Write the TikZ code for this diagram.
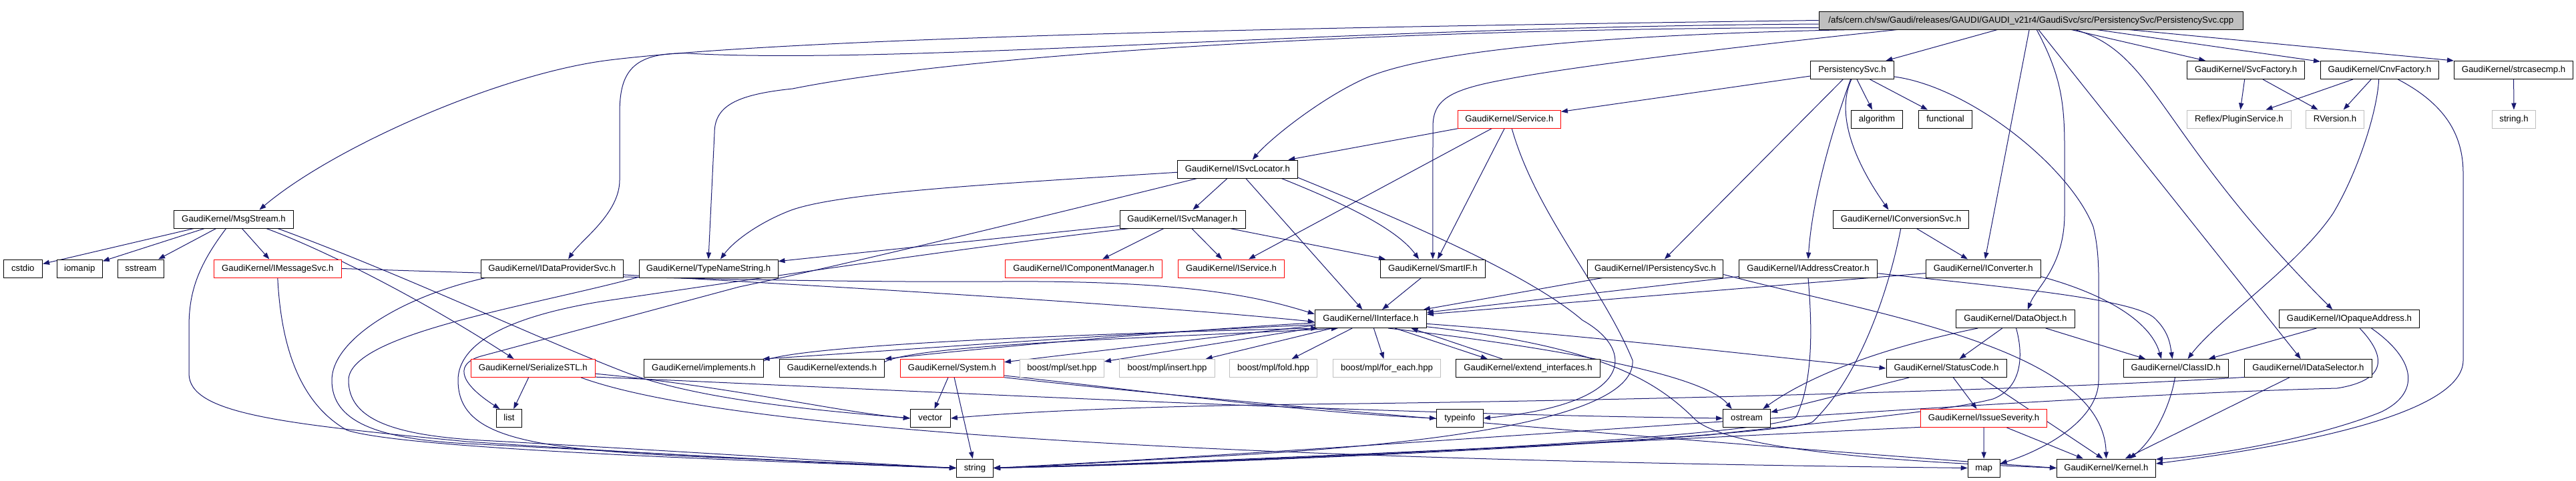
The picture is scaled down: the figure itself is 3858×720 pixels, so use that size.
\documentclass[tikz,border=0pt]{standalone}
\usepackage{fontspec}
\setmainfont{Liberation Sans}
\usetikzlibrary{arrows.meta}
\pgfdeclarelayer{bg}
\pgfsetlayers{bg,main}
\definecolor{edgecol}{HTML}{191970}
\definecolor{redb}{HTML}{FF0000}
\definecolor{grayb}{HTML}{BFBFBF}
\definecolor{topfill}{HTML}{BFBFBF}
\newcommand\gnode[6]{\node[#5, minimum width=#4*0.5pt] (#1) at (#2,#3) {#6};}
\tikzset{
 nbox/.style={draw=black, fill=white, line width=0.5pt, inner sep=0pt, minimum height=13.5pt, text height=4.8pt, text depth=1.3pt, font=\fontsize{6.6}{7.5}\selectfont},
 nred/.style={nbox, draw=redb},
 ngray/.style={nbox, draw=grayb},
 ntop/.style={nbox, fill=topfill},
 dep/.style={draw=edgecol, line width=0.5pt, -{Triangle[length=5pt,width=3.6pt]}},
}
\begin{document}
\begin{tikzpicture}[x=0.5pt,y=0.5pt]
\useasboundingbox (0,0) rectangle (3858,720);
% row 0
\gnode{T}{3041.8}{689.5}{635.5}{ntop}{/afs/cern.ch/sw/Gaudi/releases/GAUDI/GAUDI\_v21r4/GaudiSvc/src/PersistencySvc/PersistencySvc.cpp}
% row 1
\gnode{PS}{2774}{615}{125}{nbox}{PersistencySvc.h}
\gnode{SvcF}{3363.6}{615}{176}{nbox}{GaudiKernel/SvcFactory.h}
\gnode{CnvF}{3563.9}{615}{177}{nbox}{GaudiKernel/CnvFactory.h}
\gnode{strc}{3764.5}{615}{178}{nbox}{GaudiKernel/strcasecmp.h}
% row 2
\gnode{alg}{2811}{541.5}{77}{nbox}{algorithm}
\gnode{func}{2913.5}{541.5}{80}{nbox}{functional}
\gnode{Svc}{2260.4}{541.5}{154}{nred}{GaudiKernel/Service.h}
\gnode{Plug}{3353.4}{541.5}{156}{ngray}{Reflex/PluginService.h}
\gnode{RVer}{3496.9}{541.5}{87}{ngray}{RVersion.h}
\gnode{strh}{3765}{541.5}{65}{ngray}{string.h}
% row 3
\gnode{ISL}{1853.4}{466.5}{180}{nbox}{GaudiKernel/ISvcLocator.h}
% row 4
\gnode{Msg}{350}{391.5}{179}{nbox}{GaudiKernel/MsgStream.h}
\gnode{ISM}{1771}{391.5}{188}{nbox}{GaudiKernel/ISvcManager.h}
\gnode{ICS}{2847}{391.5}{203}{nbox}{GaudiKernel/IConversionSvc.h}
% row 5
\gnode{cstdio}{34.3}{317.5}{58.5}{nbox}{cstdio}
\gnode{iomanip}{119.3}{317.5}{68}{nbox}{iomanip}
\gnode{sstream}{210.8}{317.5}{69}{nbox}{sstream}
\gnode{IMsg}{415.8}{317.5}{191}{nred}{GaudiKernel/IMessageSvc.h}
\gnode{IDP}{826.8}{317.5}{213}{nbox}{GaudiKernel/IDataProviderSvc.h}
\gnode{TNS}{1061}{317.5}{208}{nbox}{GaudiKernel/TypeNameString.h}
\gnode{ICM}{1623}{317.5}{235}{nred}{GaudiKernel/IComponentManager.h}
\gnode{ISv}{1844}{317.5}{159}{nred}{GaudiKernel/IService.h}
\gnode{SIF}{2145.8}{317.5}{157}{nbox}{GaudiKernel/SmartIF.h}
\gnode{IPS}{2479}{317.5}{203.5}{nbox}{GaudiKernel/IPersistencySvc.h}
\gnode{IAC}{2708}{317.5}{207.5}{nbox}{GaudiKernel/IAddressCreator.h}
\gnode{ICv}{2970.3}{317.5}{172.6}{nbox}{GaudiKernel/IConverter.h}
% row 6
\gnode{II}{2052.8}{242}{167}{nbox}{GaudiKernel/IInterface.h}
\gnode{DO}{3018.3}{242}{178.6}{nbox}{GaudiKernel/DataObject.h}
\gnode{IOA}{3518.5}{242}{210}{nbox}{GaudiKernel/IOpaqueAddress.h}
% row 7
\gnode{SSTL}{798.3}{168}{186}{nred}{GaudiKernel/SerializeSTL.h}
\gnode{impl}{1054}{168}{179}{nbox}{GaudiKernel/implements.h}
\gnode{ext}{1246}{168}{157}{nbox}{GaudiKernel/extends.h}
\gnode{Sys}{1426}{168}{155}{nred}{GaudiKernel/System.h}
\gnode{set}{1590.4}{168}{126}{ngray}{boost/mpl/set.hpp}
\gnode{ins}{1748}{168}{143}{ngray}{boost/mpl/insert.hpp}
\gnode{fold}{1907}{168}{131}{ngray}{boost/mpl/fold.hpp}
\gnode{fe}{2077}{168}{161}{ngray}{boost/mpl/for\_each.hpp}
\gnode{ei}{2288.5}{168}{216}{nbox}{GaudiKernel/extend\_interfaces.h}
\gnode{SC}{2915}{168}{180}{nbox}{GaudiKernel/StatusCode.h}
\gnode{CID}{3258.6}{168}{157}{nbox}{GaudiKernel/ClassID.h}
\gnode{IDS}{3456.9}{168}{190.5}{nbox}{GaudiKernel/IDataSelector.h}
% row 8
\gnode{list}{762.5}{93}{38}{nbox}{list}
\gnode{vector}{1393.4}{93}{60}{nbox}{vector}
\gnode{typeinfo}{2186.4}{93}{70}{nbox}{typeinfo}
\gnode{ostream}{2616}{93}{71}{nbox}{ostream}
\gnode{ISev}{2971}{93}{189}{nred}{GaudiKernel/IssueSeverity.h}
% row 9
\gnode{string}{1460}{18.5}{55}{nbox}{string}
\gnode{map}{2971.2}{18.5}{48}{nbox}{map}
\gnode{Kern}{3154.4}{18.5}{148}{nbox}{GaudiKernel/Kernel.h}

\begin{pgfonlayer}{bg}
\fill[white] (0,0) rectangle (3858,720);
% top node
\draw[dep] (T) -- (PS);
\draw[dep] (T.180) .. controls (2000,680) and (1200,665) .. (913,630) .. controls (750,610) and (500,500) .. (Msg.20);
\draw[dep] (T.181) .. controls (2000,680) and (1350,622) .. (1030,640) .. controls (945,642) and (928,610) .. (928,550) -- (928,450) .. controls (928,400) and (870,360) .. (IDP.30);
\draw[dep] (T.182) .. controls (2100,678) and (1450,640) .. (1187,587) .. controls (1100,578) and (1070,560) .. (1070,520) -- (TNS.north);
\draw[dep] (T.183) .. controls (2400,668) and (2150,645) .. (2050,605) .. controls (1980,575) and (1900,510) .. (ISL.32);
\draw[dep] (T.184) .. controls (2600,650) and (2350,620) .. (2250,600) .. controls (2170,585) and (2146,570) .. (2146,530) -- (SIF.north);
\draw[dep] (T) -- (ICv);
\draw[dep] (T.-59) .. controls (3085,610) and (3092,570) .. (3092,500) -- (3092,400) .. controls (3092,320) and (3050,290) .. (DO.37);
\draw[dep] (T) -- (IDS);
\draw[dep] (T.-12) .. controls (3230,640) and (3230,520) .. (IOA.151);
\draw[dep] (T) -- (SvcF);
\draw[dep] (T) -- (CnvF);
\draw[dep] (T) -- (strc.north west);
% PersistencySvc.h
\draw[dep] (PS) -- (Svc);
\draw[dep] (PS) -- (alg);
\draw[dep] (PS) -- (func);
\draw[dep] (PS.-95) .. controls (2745,540) and (2790,460) .. (ICS.143);
\draw[dep] (PS) -- (IPS);
\draw[dep] (PS.-100) .. controls (2742,520) and (2714,420) .. (IAC.north);
\draw[dep] (PS.-9) .. controls (2950,590) and (3100,470) .. (3135,380) .. controls (3145,340) and (3143,300) .. (3143,250) -- (3143,150) .. controls (3143,90) and (3060,45) .. (map.15);
% factories
\draw[dep] (SvcF) -- (Plug);
\draw[dep] (SvcF) -- (RVer);
\draw[dep] (CnvF) -- (Plug);
\draw[dep] (CnvF) -- (RVer);
\draw[dep] (CnvF.-95) .. controls (3560,550) and (3530,460) .. (3494,400) .. controls (3440,320) and (3320,240) .. (CID.38);
\draw[dep] (CnvF.-27) .. controls (3660,565) and (3689,520) .. (3689,460) -- (3689,180) .. controls (3689,110) and (3500,60) .. (Kern.5);
\draw[dep] (strc) -- (strh);
% Service.h
\draw[dep] (Svc) -- (ISL);
\draw[dep] (Svc) -- (ISv);
\draw[dep] (Svc) -- (SIF);
\draw[dep] (Svc.-75) .. controls (2300,400) and (2400,290) .. (2445,180) .. controls (2450,100) and (2200,55) .. (1800,35) .. controls (1650,27) and (1550,20) .. (string.east);
% ISvcLocator.h
\draw[dep] (ISL) -- (ISM);
\draw[dep] (ISL) -- (II);
\draw[dep] (ISL.-12) .. controls (2000,420) and (2090,380) .. (SIF.146);
\draw[dep] (ISL.183) .. controls (1500,445) and (1260,432) .. (1185,405) .. controls (1140,388) and (1100,360) .. (TNS.38);
\draw[dep] (ISL.193) .. controls (1500,380) and (1250,320) .. (1107,290) -- (720,186) .. controls (685,176) and (682,150) .. (list.135);
\draw[dep] (ISL.-8) .. controls (2150,370) and (2300,300) .. (2370,240) .. controls (2450,195) and (2450,115) .. (typeinfo.east);
% ISvcManager.h
\draw[dep] (ISM) -- (ICM);
\draw[dep] (ISM) -- (ISv);
\draw[dep] (ISM) -- (SIF);
\draw[dep] (ISM) -- (TNS);
\draw[dep] (ISM.190) .. controls (1450,350) and (1050,290) .. (900,268) .. controls (760,245) and (686,205) .. (686,150) .. controls (686,60) and (800,45) .. (1100,33) -- (string.west);
% MsgStream.h
\draw[dep] (Msg) -- (cstdio);
\draw[dep] (Msg) -- (iomanip);
\draw[dep] (Msg) -- (sstream);
\draw[dep] (Msg) -- (IMsg);
\draw[dep] (Msg.-129) .. controls (295,320) and (283,280) .. (283,230) -- (283,160) .. controls (283,100) and (420,85) .. (700,58) .. controls (1000,38) and (1300,22) .. (string.west);
\draw[dep] (Msg.-16) .. controls (500,340) and (650,260) .. (SSTL.154);
\draw[dep] (Msg.-12) .. controls (600,310) and (800,215) .. (934,163) .. controls (1050,118) and (1250,103) .. (vector.west);
% IMessageSvc.h
\draw[dep] (IMsg.east) .. controls (800,308) and (1200,296) .. (1500,298) .. controls (1800,300) and (1900,270) .. (II.175);
\draw[dep] (IMsg.south) .. controls (420,220) and (440,120) .. (520,75) .. controls (600,50) and (1000,33) .. (string.west);
% IDataProviderSvc.h
\draw[dep] (IDP.-5) .. controls (1200,293) and (1700,265) .. (II.183);
\draw[dep] (IDP.188) .. controls (600,275) and (497,210) .. (497,150) .. controls (497,90) and (560,62) .. (700,55) .. controls (1000,40) and (1300,22) .. (string.west);
% TypeNameString.h
\draw[dep] (TNS.187) .. controls (800,262) and (522,220) .. (522,150) .. controls (522,95) and (580,68) .. (720,60) .. controls (1000,45) and (1300,25) .. (string.west);
% SerializeSTL.h
\draw[dep] (SSTL) -- (list);
\draw[dep] (SSTL.-5) .. controls (1100,140) and (1250,103) .. (vector.west);
\draw[dep] (SSTL.-8) .. controls (1300,138) and (2000,100) .. (ostream.west);
\draw[dep] (SSTL.-11) .. controls (1100,70) and (1900,30) .. (map.west);
% System.h
\draw[dep] (Sys) -- (vector);
\draw[dep] (Sys) -- (string);
\draw[dep] (Sys.-8) .. controls (1750,130) and (1950,102) .. (typeinfo.west);
\draw[dep] (Sys.-10) .. controls (1900,110) and (2700,45) .. (Kern.west);
% IInterface.h
\draw[dep] (II.186) .. controls (1700,222) and (1350,195) .. (impl.9);
\draw[dep] (impl.7) .. controls (1200,205) and (1700,222) .. (II.190);
\draw[dep] (II.184) .. controls (1750,224) and (1450,196) .. (ext.10);
\draw[dep] (ext.7) .. controls (1380,205) and (1750,214) .. (II.196);
\draw[dep] (II) -- (Sys);
\draw[dep] (II) -- (set);
\draw[dep] (II) -- (ins);
\draw[dep] (II) -- (fold);
\draw[dep] (II) -- (fe);
\draw[dep] (II.-21) -- (ei.167);
\draw[dep] (ei.160) -- (II.-13);
\draw[dep] (II.-5) .. controls (2400,215) and (2650,185) .. (SC.west);
\draw[dep] (II.-28) .. controls (2320,200) and (2550,160) .. (ostream.148);
\draw[dep] (II.-8) .. controls (2400,200) and (2480,150) .. (2540,90) .. controls (2600,40) and (2900,26) .. (Kern.west);
% row 5 interfaces
\draw[dep] (SIF) -- (II);
\draw[dep] (IPS) -- (II);
\draw[dep] (IPS.-5) .. controls (2800,250) and (3150,200) .. (Kern.north);
\draw[dep] (IAC) -- (II);
\draw[dep] (IAC.-4) .. controls (3000,290) and (3200,272) .. (3228,242) .. controls (3248,222) and (3250,205) .. (CID.110);
\draw[dep] (IAC.south) .. controls (2714,230) and (2716,150) .. (2690,95) .. controls (2660,68) and (2000,30) .. (string.east);
\draw[dep] (ICv) -- (II);
\draw[dep] (ICv.-8) .. controls (3150,280) and (3220,240) .. (CID.147);
\draw[dep] (ICS) -- (ICv);
\draw[dep] (ICS.-91) .. controls (2832,300) and (2790,160) .. (2715,88) .. controls (2690,68) and (2000,32) .. (string.east);
% DataObject.h
\draw[dep] (DO) -- (CID);
\draw[dep] (DO) -- (SC);
\draw[dep] (DO.194) .. controls (2800,195) and (2700,150) .. (ostream.30);
\draw[dep] (DO.-85) .. controls (3030,190) and (3030,140) .. (2985,122) .. controls (2900,100) and (2700,85) .. (2560,68) .. controls (2200,40) and (1700,22) .. (string.east);
% StatusCode.h, IssueSeverity.h
\draw[dep] (SC) -- (ISev);
\draw[dep] (SC) -- (ostream);
\draw[dep] (SC.-15) -- (Kern.110);
\draw[dep] (ISev) -- (map);
\draw[dep] (ISev) -- (Kern);
\draw[dep] (ISev.188) .. controls (2500,62) and (1900,30) .. (string.east);
% ClassID.h, IDataSelector.h, IOpaqueAddress.h
\draw[dep] (CID.-95) .. controls (3250,110) and (3225,60) .. (Kern.22);
\draw[dep] (IDS) -- (Kern);
\draw[dep] (IDS.188) .. controls (3100,138) and (2500,120) .. (1950,114) .. controls (1700,111) and (1520,102) .. (vector.east);
\draw[dep] (IOA) -- (CID);
\draw[dep] (IOA.-23) .. controls (3620,180) and (3625,130) .. (3565,102) .. controls (3460,60) and (3300,35) .. (Kern.10);
\draw[dep] (IOA.-42) .. controls (3575,185) and (3575,150) .. (3500,138) .. controls (3000,125) and (2100,50) .. (string.east);
\end{pgfonlayer}
\end{tikzpicture}
\end{document}
